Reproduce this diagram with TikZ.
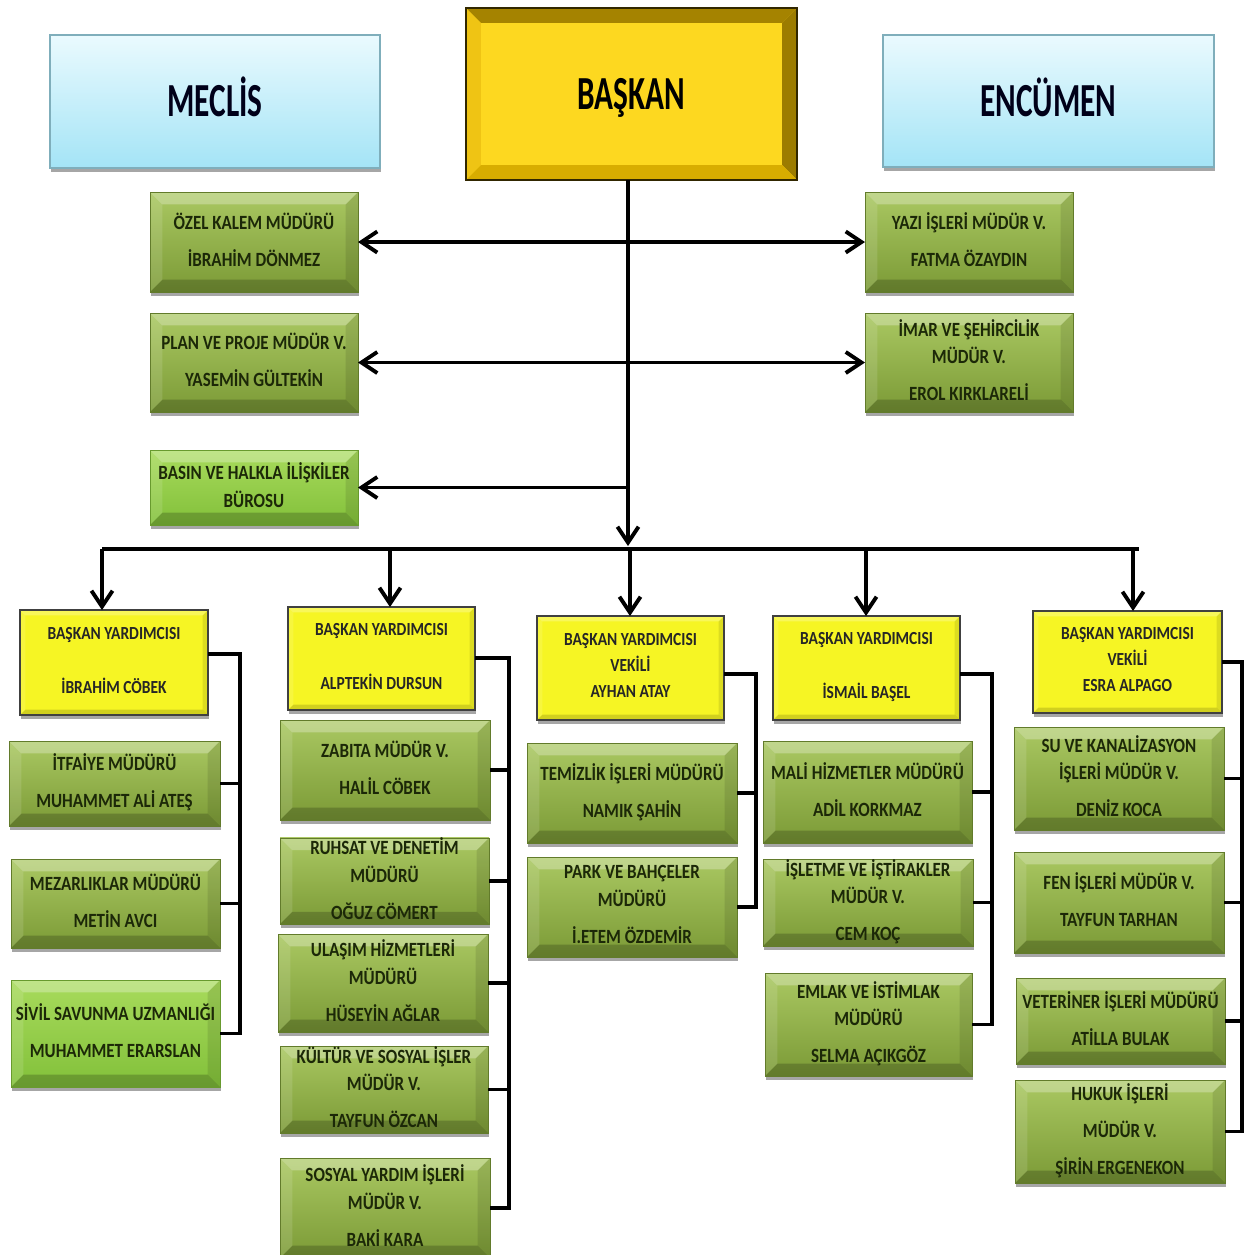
\documentclass[tikz,border=0pt]{standalone}
\usepackage{fontspec}
\setmainfont{Carlito}[FakeStretch=0.84]
\newfontfamily\bigfam{Carlito}[FakeStretch=0.66]
\usetikzlibrary{arrows.meta,shadows}
\definecolor{gTop}{HTML}{AAC862}
\definecolor{gBot}{HTML}{7B9A36}
\definecolor{lgTop}{HTML}{A8DB5C}
\definecolor{lgBot}{HTML}{82C03A}
\definecolor{gText}{HTML}{1C2808}
\definecolor{vpFill}{HTML}{F6F524}
\definecolor{bkFace}{HTML}{FDD820}
\definecolor{bkTop}{HTML}{A58300}
\definecolor{bkLeft}{HTML}{EFC414}
\definecolor{bkRight}{HTML}{9C7C00}
\definecolor{bkBot}{HTML}{D8AD00}
\definecolor{blTop}{HTML}{EAFAFE}
\definecolor{blBot}{HTML}{A4E4F6}
\definecolor{blEdge}{HTML}{7FAEBB}
\newcommand\stt{\rule[-0.25em]{0pt}{1.144em}}
\newcommand\gfnt{\fontsize{11.5}{15.6}\selectfont\bfseries}
\newcommand\vfnt{\fontsize{10.5}{14.8}\selectfont\bfseries}
\newcommand\bfnt{\bigfam\fontsize{27}{30}\selectfont\bfseries}
\newcommand\gap{\\[5.5pt]}
\newcommand\vgap{\\[16pt]}
\newcommand\bx[6]{\node[#1,minimum width={(#4-#2)*0.02cm},minimum height={(#5-#3)*0.02cm}] (#6) at ({(#2+#4)/2},{(#3+#5)/2})}
\tikzset{
  every node/.style={inner sep=0pt,outer sep=0pt,align=center,
    execute at begin node=\stt,execute at end node=\stt},
  bev/.style n args={5}{path picture={
    \fill[#2] (path picture bounding box.north west) -- (path picture bounding box.north east) -- ([shift={(-#1,-#1)}]path picture bounding box.north east) -- ([shift={(#1,-#1)}]path picture bounding box.north west) -- cycle;
    \fill[#3] (path picture bounding box.north west) -- (path picture bounding box.south west) -- ([shift={(#1,#1)}]path picture bounding box.south west) -- ([shift={(#1,-#1)}]path picture bounding box.north west) -- cycle;
    \fill[#4] (path picture bounding box.north east) -- (path picture bounding box.south east) -- ([shift={(-#1,#1)}]path picture bounding box.south east) -- ([shift={(-#1,-#1)}]path picture bounding box.north east) -- cycle;
    \fill[#5] (path picture bounding box.south west) -- (path picture bounding box.south east) -- ([shift={(-#1,#1)}]path picture bounding box.south east) -- ([shift={(#1,#1)}]path picture bounding box.south west) -- cycle;
  }},
  shd/.style={drop shadow={shadow xshift=0.6pt,shadow yshift=-2.2pt,opacity=.35,fill=black}},
  gbox/.style={rectangle,top color=gTop,bottom color=gBot,draw=gBot!80!black,line width=0.3pt,shd,
    bev={7pt}{white,opacity=.28}{white,opacity=.12}{black,opacity=.10}{black,opacity=.20},
    font=\gfnt,text=gText},
  lgbox/.style={gbox,top color=lgTop,bottom color=lgBot,draw=lgBot!80!black},
  vpbox/.style={rectangle,fill=vpFill,draw=black!75,line width=1pt,shd,
    bev={3pt}{white,opacity=.25}{white,opacity=.12}{black,opacity=.10}{black,opacity=.15},
    font=\vfnt,text=black!85},
  bkbox/.style={rectangle,fill=bkFace,draw=black!70!bkTop,line width=1pt,
    bev={8.5pt}{bkTop}{bkLeft}{bkRight}{bkBot},font=\bfnt,text=black},
  blbox/.style={rectangle,top color=blTop,bottom color=blBot,draw=blEdge,line width=1pt,shd,
    font=\bfnt,text=black!90!blue},
  conn/.style={line width=2.2pt,black},
  bline/.style={line width=2pt,black},
  tipp/.tip={Straight Barb[length=9pt,width=12pt]},
}
\begin{document}
\begin{tikzpicture}[x=0.02cm,y=-0.02cm]
\fill[white] (0,0) rectangle (1244,1255);
\useasboundingbox (0,0) rectangle (1244,1255);

% top row
\bx{blbox}{50}{35}{380}{168}{meclis} {MECLİS};
\bx{bkbox}{466}{8}{797}{180}{baskan} {BAŞKAN};
\bx{blbox}{883}{35}{1214}{167}{encumen} {ENCÜMEN};

% staff units
\bx{gbox}{150}{192}{358}{292}{ozel} {ÖZEL KALEM MÜDÜRÜ\gap İBRAHİM DÖNMEZ};
\bx{gbox}{150}{313}{358}{412}{plan} {PLAN VE PROJE  MÜDÜR V.\gap YASEMİN GÜLTEKİN};
\bx{lgbox}{150}{450}{358}{525}{basin} {BASIN VE HALKLA İLİŞKİLER\\BÜROSU};
\bx{gbox}{865}{192}{1073}{292}{yazi} {YAZI İŞLERİ MÜDÜR V.\gap FATMA ÖZAYDIN};
\bx{gbox}{865}{313}{1073}{412}{imar} {İMAR VE ŞEHİRCİLİK\\MÜDÜR V.\gap EROL KIRKLARELİ};

% deputies
\bx{vpbox}{20}{610}{208}{715}{vp1} {BAŞKAN YARDIMCISI\vgap İBRAHİM CÖBEK};
\bx{vpbox}{288}{607}{475}{710}{vp2} {BAŞKAN YARDIMCISI\vgap ALPTEKİN DURSUN};
\bx{vpbox}{537}{616}{724}{720}{vp3} {BAŞKAN YARDIMCISI\\VEKİLİ\\AYHAN ATAY};
\bx{vpbox}{773}{616}{960}{720}{vp4} {BAŞKAN YARDIMCISI\vgap İSMAİL BAŞEL};
\bx{vpbox}{1033}{611}{1222}{713}{vp5} {BAŞKAN YARDIMCISI\\VEKİLİ\\ESRA ALPAGO};

% column 1
\bx{gbox}{9}{741}{220}{826}{itfaiye} {İTFAİYE MÜDÜRÜ\gap MUHAMMET  ALİ ATEŞ};
\bx{gbox}{11}{859}{220}{948}{mezar} {MEZARLIKLAR MÜDÜRÜ\gap METİN AVCI};
\bx{lgbox}{11}{980}{220}{1087}{sivil} {SİVİL SAVUNMA UZMANLIĞI\gap MUHAMMET  ERARSLAN};

% column 2
\bx{gbox}{280}{720}{490}{820}{zabita} {ZABITA  MÜDÜR V.\gap HALİL CÖBEK};
\bx{gbox}{280}{839}{489}{923}{ruhsat} {RUHSAT VE DENETİM\\MÜDÜRÜ\gap OĞUZ CÖMERT};
\bx{gbox}{278}{934}{488}{1032}{ulasim} {ULAŞIM HİZMETLERİ\\MÜDÜRÜ\gap HÜSEYİN AĞLAR};
\bx{gbox}{280}{1046}{488}{1133}{kultur} {KÜLTÜR VE SOSYAL İŞLER\\MÜDÜR V.\gap TAYFUN ÖZCAN};
\bx{gbox}{280}{1158}{490}{1258}{sosyal} {SOSYAL YARDIM İŞLERİ\\MÜDÜR V.\gap BAKİ KARA};

% column 3
\bx{gbox}{527}{743}{737}{843}{temizlik} {TEMİZLİK İŞLERİ MÜDÜRÜ\gap NAMIK ŞAHİN};
\bx{gbox}{527}{857}{737}{957}{park} {PARK VE BAHÇELER\\MÜDÜRÜ\gap İ.ETEM ÖZDEMİR};

% column 4
\bx{gbox}{763}{741}{972}{843}{mali} {MALİ HİZMETLER  MÜDÜRÜ\gap ADİL KORKMAZ};
\bx{gbox}{763}{859}{973}{946}{isletme} {İŞLETME VE İŞTİRAKLER\\MÜDÜR V.\gap CEM KOÇ};
\bx{gbox}{765}{973}{972}{1076}{emlak} {EMLAK VE İSTİMLAK\\MÜDÜRÜ\gap SELMA AÇIKGÖZ};

% column 5
\bx{gbox}{1014}{727}{1224}{830}{su} {SU VE KANALİZASYON\\İŞLERİ MÜDÜR V.\gap DENİZ KOCA};
\bx{gbox}{1014}{852}{1224}{953}{fen} {FEN İŞLERİ MÜDÜR V.\gap TAYFUN TARHAN};
\bx{gbox}{1016}{978}{1225}{1064}{veteriner} {VETERİNER İŞLERİ MÜDÜRÜ\gap ATİLLA BULAK};
\bx{gbox}{1015}{1080}{1225}{1183}{hukuk} {HUKUK İŞLERİ\gap MÜDÜR V.\gap ŞİRİN ERGENEKON};

% coordinates
\coordinate (trunk) at (628,546);
\coordinate (b1) at (102,549);
\coordinate (b2) at (390,549);
\coordinate (b3) at (630,549);
\coordinate (b4) at (866,549);
\coordinate (b5) at (1133,549);
\coordinate (bR) at (1139,549);
\coordinate (k1) at (240,654);
\coordinate (k2) at (509,658);
\coordinate (k3) at (756,674);
\coordinate (k4) at (992,674);
\coordinate (k5) at (1242,662);

% trunk and side arrows
\draw[conn,-tipp] (baskan.south -| trunk) -- (trunk);
\draw[conn,tipp-tipp] (ozel.east) -- (yazi.west);
\draw[conn,tipp-tipp] (plan.east) -- (imar.west);
\draw[conn,-tipp] (basin.east -| trunk) -- (basin.east);

% bus
\draw[conn] (b1) -- (bR);
\draw[conn,-tipp] (b1) -- (b1 |- vp1.north);
\draw[conn,-tipp] (b2) -- (b2 |- vp2.north);
\draw[conn,-tipp] (b3) -- (b3 |- vp3.north);
\draw[conn,-tipp] (b4) -- (b4 |- vp4.north);
\draw[conn,-tipp] (b5) -- (b5 |- vp5.north);

% brackets
\draw[bline] (vp1.east |- k1) -- (k1) -- (k1 |- sivil.east) -- (sivil.east);
\draw[bline] (itfaiye.east) -- (itfaiye.east -| k1);
\draw[bline] (mezar.east) -- (mezar.east -| k1);

\draw[bline] (vp2.east |- k2) -- (k2) -- (k2 |- sosyal.east) -- (sosyal.east);
\draw[bline] (zabita.east) -- (zabita.east -| k2);
\draw[bline] (ruhsat.east) -- (ruhsat.east -| k2);
\draw[bline] (ulasim.east) -- (ulasim.east -| k2);
\draw[bline] (kultur.east) -- (kultur.east -| k2);

\draw[bline] (vp3.east |- k3) -- (k3) -- (k3 |- park.east) -- (park.east);
\draw[bline] (temizlik.east) -- (temizlik.east -| k3);

\draw[bline] (vp4.east |- k4) -- (k4) -- (k4 |- emlak.east) -- (emlak.east);
\draw[bline] (mali.east) -- (mali.east -| k4);
\draw[bline] (isletme.east) -- (isletme.east -| k4);

\draw[bline] (vp5.east |- k5) -- (k5) -- (k5 |- hukuk.east) -- (hukuk.east);
\draw[bline] (su.east) -- (su.east -| k5);
\draw[bline] (fen.east) -- (fen.east -| k5);
\draw[bline] (veteriner.east) -- (veteriner.east -| k5);
\end{tikzpicture}
\end{document}
